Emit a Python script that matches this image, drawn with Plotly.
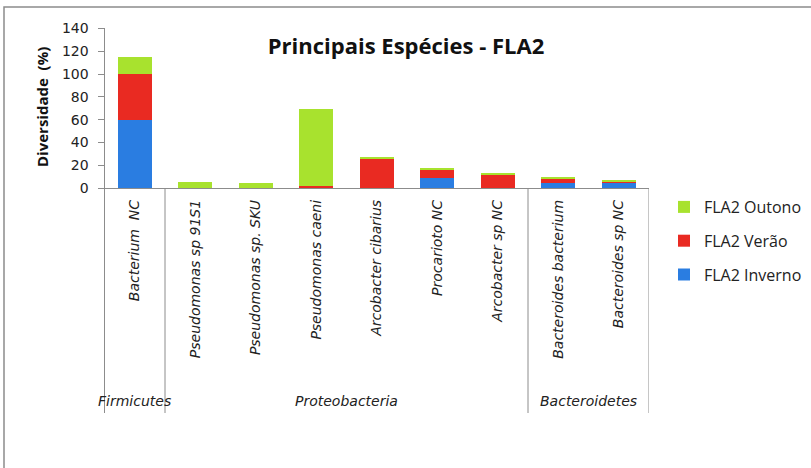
import plotly.graph_objects as go

# Species (x categories) and the phylum groups they belong to
especies = ["Bacterium  NC", "Pseudomonas sp 91S1", "Pseudomonas sp. SKU", "Pseudomonas caeni",
            "Arcobacter cibarius", "Procarioto NC", "Arcobacter sp NC",
            "Bacteroides bacterium", "Bacteroides sp NC"]
grupos = ["Firmicutes", "Proteobacteria", "Bacteroidetes"]
grupo_inicio = [0, 1, 7]
grupo_fim = [0, 6, 8]

# Diversity (%) per season
inverno = [60, 0, 0, 0, 0, 9.3, 0, 4.4, 4.4]
verao = [40, 0, 0, 2.3, 25.6, 6.4, 12.2, 3.7, 1.1]
outono = [14.6, 5.5, 4.4, 67.4, 1.2, 2.3, 1.2, 1.2, 1.5]

serie_nomes = ["FLA2 Inverno", "FLA2 Verão", "FLA2 Outono"]
serie_cores = ["#2a7de1", "#e92a22", "#a8e22e"]
serie_rank = [3, 2, 1]

y_ticks = [0, 20, 40, 60, 80, 100, 120, 140]

W, H = 811, 468
TXT = "Open Sans"
CAT = "DejaVu Sans"

fig = go.Figure()
for nome, vals, cor, rk in zip(serie_nomes, [inverno, verao, outono], serie_cores, serie_rank):
    fig.add_trace(go.Bar(x=list(range(len(especies))), y=vals, name=nome,
                         marker=dict(color=cor, line=dict(width=0)),
                         width=0.57, legendgroup=nome, legendrank=rk))

x0_px, x1_px = 104.5, 649
y0_px, ytop_px = 188.3, 28.3
ybot_px = 413

def py(p):
    return 1 - p / H

shapes = []
# outer chart frame
shapes.append(dict(type="rect", xref="paper", yref="paper",
                   x0=4 / W, x1=1.05, y0=-0.05, y1=py(7),
                   line=dict(color="#8c8c8c", width=1.5), layer="below"))
# category group dividers below the axis
for b in [grupo_inicio[0] - 0.5] + [f + 0.5 for f in grupo_fim]:
    shapes.append(dict(type="line", xref="x", yref="paper", x0=b, x1=b,
                       y0=py(ybot_px), y1=py(y0_px),
                       line=dict(color="#8c8c8c", width=1)))

annotations = []
for g, a, b in zip(grupos, grupo_inicio, grupo_fim):
    annotations.append(dict(x=(a + b) / 2, xref="x", y=py(401), yref="paper",
                            text=g, showarrow=False,
                            font=dict(family=CAT, size=14, color="#222", style="italic"),
                            xanchor="center", yanchor="middle"))
annotations.append(dict(x=42 / W, y=py(107), xref="paper", yref="paper",
                        text="<b>Diversidade  (%)</b>", textangle=-90, showarrow=False,
                        font=dict(family=TXT, size=15, color="#111"),
                        xanchor="center", yanchor="middle"))

fig.update_layout(
    width=W, height=H,
    margin=dict(l=0, r=0, t=0, b=0),
    paper_bgcolor="white", plot_bgcolor="white",
    barmode="stack", bargap=0.43,
    title=dict(text="<b>Principais Espécies - FLA2</b>", x=406 / W, xanchor="center",
               y=py(46), yanchor="middle", font=dict(family=TXT, size=22, color="#111")),
    xaxis=dict(domain=[x0_px / W, x1_px / W], range=[-0.5, len(especies) - 0.5],
               tickmode="array", tickvals=list(range(len(especies))), ticktext=especies,
               tickangle=-90, ticks="", ticklabelstandoff=5, automargin=False,
               tickfont=dict(family=CAT, size=14, color="#222", style="italic"),
               showline=True, linecolor="#8c8c8c", linewidth=1, showgrid=False,
               zeroline=False, fixedrange=True),
    yaxis=dict(domain=[py(y0_px), py(ytop_px)], range=[0, 140], automargin=False,
               tickmode="array", tickvals=y_ticks, ticks="outside", ticklen=6,
               tickcolor="#8c8c8c", ticklabelstandoff=6,
               tickfont=dict(family=CAT, size=14, color="#222"),
               showline=True, linecolor="#8c8c8c", linewidth=1, showgrid=False,
               zeroline=False),
    legend=dict(x=664 / W, y=py(190), xanchor="left", yanchor="top",
                traceorder="grouped", tracegroupgap=10,
                font=dict(family=TXT, size=16, color="#222"), itemwidth=30),
    shapes=shapes, annotations=annotations,
)
# extend the y-axis line downward through the label area
fig.add_shape(type="line", xref="paper", yref="paper", x0=x0_px / W, x1=x0_px / W,
              y0=py(ybot_px), y1=py(y0_px), line=dict(color="#8c8c8c", width=1))

fig.write_html("out.html")
